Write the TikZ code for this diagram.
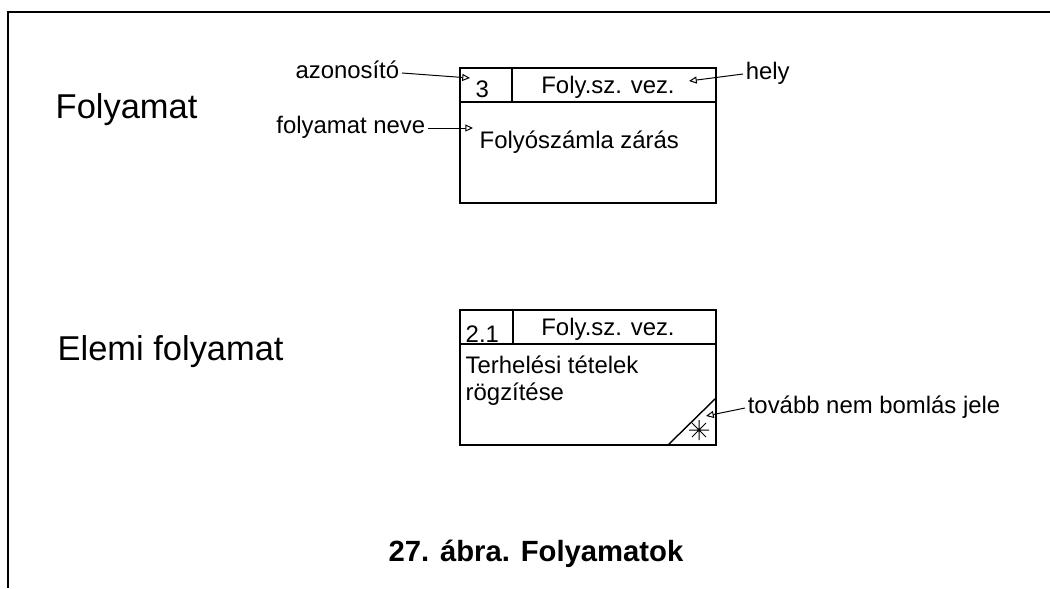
\documentclass[tikz,border=0pt]{standalone}
\usepackage{fontspec}
\setmainfont{Liberation Sans}
\usepackage{tikz}
\usetikzlibrary{arrows.meta}

\tikzset{
  boxtxt/.style={inner sep=0,font=\fontsize{17pt}{20pt}\selectfont},
  lbl/.style={inner xsep=1.5pt,inner ysep=0,text height=0.95em,text depth=0.2em,
    font=\fontsize{17pt}{20pt}\selectfont},
  bigtxt/.style={inner sep=0,font=\fontsize{24.5pt}{28pt}\selectfont},
  pointer/.style={line width=0.7pt,-{Triangle[open,length=5.5pt,width=5pt]}}
}

\begin{document}
\begin{tikzpicture}[x=0.025cm,y=-0.025cm,line width=1pt]
  \useasboundingbox (0,0) rectangle (1050,588);
  % frame
  \draw[line width=1.6pt] (1050,12) -- (8,12) -- (8,588);
  % left titles
  \node[bigtxt,anchor=base west] (folyamat) at (55,118) {Folyamat};
  \node[bigtxt,anchor=base west] (elemi) at (57,360) {Elemi folyamat};
  % process box
  \draw (460,68) rectangle (716,203);
  \draw (460,102) -- (716,102);
  \draw (512,68) -- (512,102);
  \node[boxtxt,anchor=base west] (id1) at (475,97) {3};
  \node[boxtxt,anchor=base] (hely1) at (608,93) {Foly.sz. vez.};
  \node[boxtxt,anchor=base west] (nev1) at (479,148) {Folyószámla zárás};
  % elementary process box
  \draw (460,310) rectangle (716,445);
  \draw (460,344) -- (716,344);
  \draw (513,310) -- (513,344);
  \draw (668,445) -- (716,398);
  \draw[line width=0.7pt] (689,430) -- (709,430) (699,420) -- (699,440)
    (692,423) -- (706,437) (692,437) -- (706,423);
  \node[boxtxt,anchor=base west] (id2) at (465,342) {2.1};
  \node[boxtxt,anchor=base] (hely2) at (608,335) {Foly.sz. vez.};
  \node[boxtxt,anchor=base west] (nev2a) at (465,373) {Terhelési tételek};
  \node[boxtxt,anchor=base west] (nev2b) at (465,400) {rögzítése};
  % labels with pointers
  \node[lbl,anchor=east] (azon) at (402,73) {azonosító};
  \node[lbl,anchor=west] (hely) at (743,74) {hely};
  \node[lbl,anchor=east] (neve) at (428,128) {folyamat neve};
  \node[lbl,anchor=west] (jel) at (745,408) {tovább nem bomlás jele};
  \coordinate (azonTip) at (470,78);
  \coordinate (helyTip) at (689,81);
  \coordinate (neveTip) at (473,128);
  \coordinate (jelTip) at (706,416);
  \draw[pointer] (azon.east) -- (azonTip);
  \draw[pointer] (hely.west) -- (helyTip);
  \draw[pointer] (neve.east) -- (neveTip);
  \draw[pointer] (jel.west) -- (jelTip);
  % caption
  \node[inner sep=0,anchor=base,font=\bfseries\fontsize{20.8pt}{24pt}\selectfont] (cap)
    at (536,561) {27. ábra. Folyamatok};
\end{tikzpicture}
\end{document}
